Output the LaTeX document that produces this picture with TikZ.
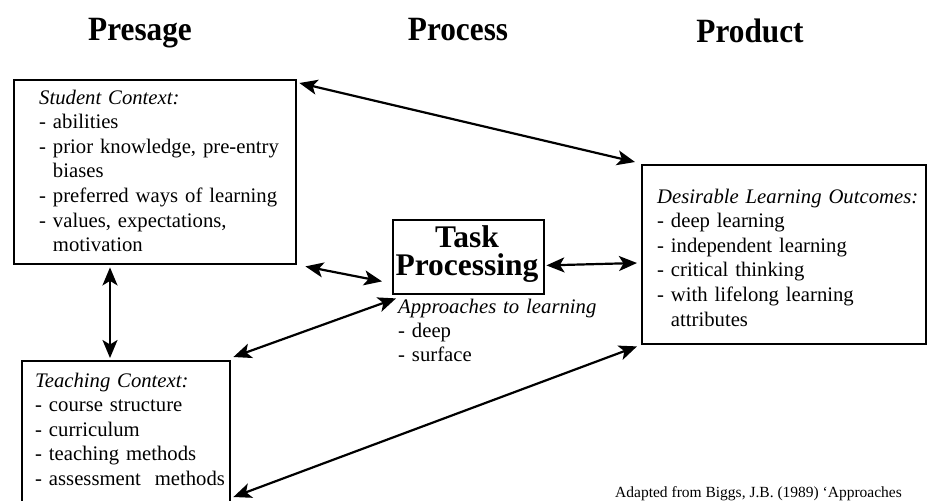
\documentclass[tikz,border=0pt]{standalone}
\usepackage{fontspec}
\setmainfont{Liberation Serif}
\usepackage{graphicx}
\usetikzlibrary{arrows.meta}
\begin{document}
\begin{tikzpicture}[x=1pt,y=-1pt,
  box/.style={draw, line width=2.4pt, inner sep=0pt, anchor=north west},
  body/.style={anchor=base west, inner sep=0pt, text width=300pt, align=left, font=\fontsize{20.7}{24.6}\selectfont},
  head/.style={anchor=base, inner sep=0pt, font=\fontsize{34}{40}\selectfont\bfseries},
  tasktext/.style={anchor=center, inner sep=0pt, align=center, font=\fontsize{31.5}{28}\selectfont\bfseries},
  note/.style={anchor=base west, inner sep=0pt, font=\fontsize{15.5}{18}\selectfont},
  tip/.tip={Stealth[length=18pt,width=15pt,inset=4.5pt]},
  arr/.style={tip-tip, line width=2.2pt}
]
\fill[white] (0,0) rectangle (927,501);
\useasboundingbox (0,0) rectangle (927,501);

% headings
\node[head] (presage) at (140,40) {\scalebox{0.92}[1]{Presage}};
\node[head] (process) at (458,40) {\scalebox{0.92}[1]{Process}};
\node[head] (product) at (750,42) {\scalebox{0.92}[1]{Product}};

% boxes
\node[box, minimum width=282pt, minimum height=184pt] (student) at (13,79) {};
\node[box, minimum width=208pt, minimum height=160pt] (teaching) at (21,360) {};
\node[box, minimum width=151pt, minimum height=74pt] (task) at (392,219) {};
\node[box, minimum width=284pt, minimum height=179pt] (outcomes) at (641,164) {};

% texts
\node[body] (studenttext) at (39,104) {\textit{Student Context:}\\
- abilities\\
- prior knowledge, pre-entry\\
\phantom{-} biases\\
- preferred ways of learning\\
- values, expectations,\\
\phantom{-} motivation};

\node[body] (teachingtext) at (35,387) {\textit{Teaching Context:}\\
- course structure\\
- curriculum\\
- teaching methods\\
- assessment~ methods};

\node[body] (outcomestext) at (657,203) {\textit{Desirable Learning Outcomes:}\\
- deep learning\\
- independent learning\\
- critical thinking\\
- with lifelong learning\\
\phantom{-} attributes};

\node[tasktext] (tasktitle) at (467,254) {Task\\Processing};

\node[body, font=\fontsize{20.7}{24}\selectfont] (approaches) at (398,313) {\textit{Approaches to learning}\\
- deep\\
- surface};

\node[note] (source) at (615,497) {Adapted from Biggs, J.B. (1989) ‘Approaches};

% arrow end points
\coordinate (a1s) at ([shift={(2,4)}]student.north east);
\coordinate (a1o) at ([shift={(-6,-2)}]outcomes.north west);
\coordinate (a2s) at ([shift={(8,1)}]student.south east);
\coordinate (a2t) at ([shift={(-10,-14)}]task.south west);
\coordinate (a3c) at ([shift={(2,-3)}]teaching.north east);
\coordinate (a3t) at ([shift={(4,3)}]task.south west);
\coordinate (a4t) at ([shift={(1,-30)}]task.south east);
\coordinate (a4o) at ([shift={(-4,99)}]outcomes.north west);
\coordinate (a5c) at ([shift={(2,137)}]teaching.north east);
\coordinate (a5o) at ([shift={(-4,1)}]outcomes.south west);
\coordinate (a6s) at ([shift={(97,2)}]student.south west);
\coordinate (a6c) at ([shift={(89,-2)}]teaching.north west);

% connectors
\draw[arr] (a1s) -- (a1o);
\draw[arr] (a2s) -- (a2t);
\draw[arr] (a3c) -- (a3t);
\draw[arr] (a4t) -- (a4o);
\draw[arr] (a5c) -- (a5o);
\draw[arr] (a6s) -- (a6c);
\end{tikzpicture}
\end{document}
